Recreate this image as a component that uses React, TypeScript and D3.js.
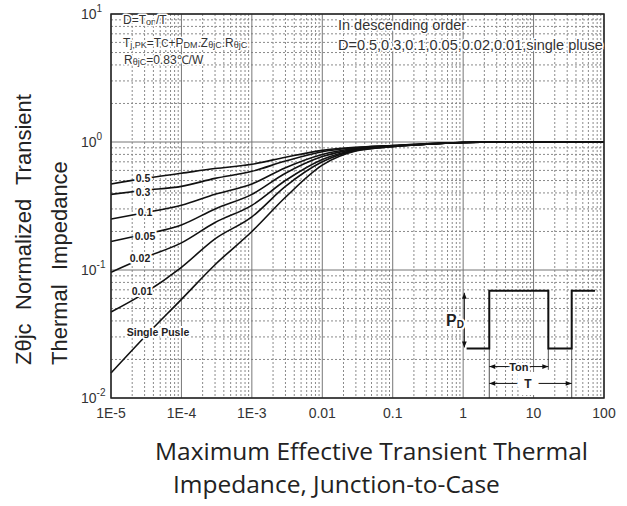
import React from 'react';
import * as d3 from 'd3';

// pulse duration, seconds
const times = [1e-5, 3e-5, 1e-4, 3e-4, 1e-3, 3e-3, 1e-2, 3e-2, 0.1, 0.3, 1, 3, 10, 30, 100];

// normalized Zth for each duty cycle
const d050 = [0.47, 0.52, 0.57, 0.62, 0.67, 0.76, 0.86, 0.91, 0.94, 0.97, 0.99, 1, 1, 1, 1];
const d030 = [0.39, 0.42, 0.45, 0.52, 0.59, 0.71, 0.84, 0.9, 0.94, 0.97, 0.99, 1, 1, 1, 1];
const d010 = [0.25, 0.28, 0.32, 0.39, 0.47, 0.63, 0.8, 0.89, 0.93, 0.96, 0.99, 1, 1, 1, 1];
const d005 = [0.167, 0.19, 0.225, 0.3, 0.39, 0.57, 0.77, 0.88, 0.93, 0.96, 0.99, 1, 1, 1, 1];
const d002 = [0.096, 0.125, 0.163, 0.235, 0.32, 0.5, 0.73, 0.87, 0.93, 0.96, 0.99, 1, 1, 1, 1];
const d001 = [0.047, 0.066, 0.105, 0.175, 0.26, 0.45, 0.7, 0.86, 0.92, 0.96, 0.99, 1, 1, 1, 1];
const single = [0.0157, 0.03, 0.059, 0.11, 0.2, 0.37, 0.66, 0.85, 0.92, 0.96, 0.99, 1, 1, 1, 1];

const seriesNames = ['0.5', '0.3', '0.1', '0.05', '0.02', '0.01', 'Single Pusle'];
const seriesValues = [d050, d030, d010, d005, d002, d001, single];

const xTickLabels = ['1E-5', '1E-4', '1E-3', '0.01', '0.1', '1', '10', '100'];
const yTickExp = ['1', '0', '-1', '-2'];

// pulse sketch (inset), in chart units
const pulseT = [1.12, 2.35, 2.35, 16.2, 16.2, 34.8, 34.8, 74.5];
const pulseZ = [0.0244, 0.0244, 0.0688, 0.0688, 0.0244, 0.0244, 0.0688, 0.0688];

const W = 627;
const H = 506;
const left = 111;
const right = 604;
const top = 14;
const bottom = 398;

const font = '"Liberation Sans", Arial, sans-serif';
const titleFont = '"Open Sans", "Noto Sans", sans-serif';

export default function App() {
  const x = d3.scaleLog().domain([1e-5, 100]).range([left, right]);
  const y = d3.scaleLog().domain([0.01, 10]).range([bottom, top]);

  const line = d3.line<[number, number]>()
    .x((d) => x(d[0]))
    .y((d) => y(d[1]))
    .curve(d3.curveMonotoneX);

  // grid values
  const minorX: number[] = [];
  for (let e = -5; e < 2; e += 1) {
    for (let m = 2; m <= 9; m += 1) minorX.push(m * 10 ** e);
  }
  const minorY: number[] = [];
  for (let e = -2; e < 1; e += 1) {
    for (let m = 2; m <= 9; m += 1) minorY.push(m * 10 ** e);
  }
  const majorX = x.ticks().filter((t) => Math.abs(Math.log10(t) - Math.round(Math.log10(t))) < 1e-9);
  const majorY = [0.01, 0.1, 1, 10];

  // label spots for the curves
  const labelPos = [
    { x: 143, y: 182 },
    { x: 143, y: 196 },
    { x: 145, y: 216 },
    { x: 145, y: 240 },
    { x: 140, y: 262 },
    { x: 142, y: 295 },
    { x: 158, y: 336 },
  ];

  const pulse = pulseT.map((t, i) => [x(t), y(pulseZ[i])]);
  const tRise = x(pulseT[1]);
  const tFall = x(pulseT[3]);
  const tRise2 = x(pulseT[5]);
  const yLow = y(pulseZ[0]);
  const yHigh = y(pulseZ[2]);
  const yTon = y(0.0176);
  const yT = y(0.013);
  const xPd = x(1.04);

  const halo = { paintOrder: 'stroke' as const, stroke: '#fff', strokeWidth: 4, strokeLinejoin: 'round' as const };

  return (
    <svg width={W} height={H} style={{ position: 'absolute', left: 0, top: 0, background: '#fff' }}>
      <defs>
        <marker id="ah" viewBox="0 0 10 10" refX="10" refY="5" markerWidth="7" markerHeight="6" orient="auto-start-reverse">
          <path d="M0,1 L10,5 L0,9 z" fill="#111" />
        </marker>
      </defs>
      <rect x={0} y={0} width={W} height={H} fill="#fff" />

      {/* grid */}
      <g>
        {minorX.map((t) => (
          <line key={`mx${t}`} x1={x(t)} x2={x(t)} y1={top} y2={bottom} stroke="#8a8a8a" strokeWidth={1} strokeDasharray="2,2" />
        ))}
        {minorY.map((v) => (
          <line key={`my${v}`} x1={left} x2={right} y1={y(v)} y2={y(v)} stroke="#8a8a8a" strokeWidth={1} strokeDasharray="2,2" />
        ))}
        {majorX.map((t) => (
          <line key={`Mx${t}`} x1={x(t)} x2={x(t)} y1={top} y2={bottom} stroke="#777" strokeWidth={1} />
        ))}
        {majorY.map((v) => (
          <line key={`My${v}`} x1={left} x2={right} y1={y(v)} y2={y(v)} stroke="#777" strokeWidth={1} />
        ))}
      </g>

      {/* curves */}
      <g fill="none" stroke="#111" strokeWidth={1.6}>
        {seriesValues.map((vals, i) => (
          <path key={seriesNames[i]} d={line(times.map((t, j) => [t, vals[j]]) as [number, number][]) || ''} />
        ))}
      </g>

      {/* curve labels */}
      <g fontFamily={font} fontSize={10.5} fontWeight="bold" fill="#222" textAnchor="middle">
        {seriesNames.map((n, i) => (
          <text key={n} x={labelPos[i].x} y={labelPos[i].y} {...halo}>{n}</text>
        ))}
      </g>

      {/* pulse inset */}
      <g>
        <line x1={tRise} x2={tRise} y1={yLow} y2={bottom} stroke="#222" strokeWidth={0.8} />
        <line x1={tFall} x2={tFall} y1={yLow} y2={y(0.0166)} stroke="#222" strokeWidth={0.8} />
        <line x1={tRise2} x2={tRise2} y1={yLow} y2={bottom} stroke="#222" strokeWidth={0.8} />
        <path d={d3.line()(pulse as [number, number][]) || ''} fill="none" stroke="#111" strokeWidth={2} />
        <line x1={xPd} x2={xPd} y1={yHigh + 2} y2={yLow - 1} stroke="#111" strokeWidth={1} markerStart="url(#ah)" markerEnd="url(#ah)" />
        <text x={455} y={326} fontFamily={font} fontSize={16} fontWeight="bold" fill="#222" textAnchor="middle" {...halo}>
          P<tspan fontSize={10} dy={2}>D</tspan>
        </text>
        <line x1={tRise} x2={tFall} y1={yTon} y2={yTon} stroke="#111" strokeWidth={1} markerStart="url(#ah)" markerEnd="url(#ah)" />
        <text x={(tRise + tFall) / 2} y={yTon + 4} fontFamily={font} fontSize={11} fontWeight="bold" fill="#222" textAnchor="middle" {...halo}>Ton</text>
        <line x1={tRise} x2={tRise2} y1={yT} y2={yT} stroke="#111" strokeWidth={1} markerStart="url(#ah)" markerEnd="url(#ah)" />
        <text x={528} y={yT + 5} fontFamily={font} fontSize={12} fontWeight="bold" fill="#222" textAnchor="middle" paintOrder="stroke" stroke="#fff" strokeWidth={14}>T</text>
      </g>

      {/* frame */}
      <rect x={left} y={top} width={right - left} height={bottom - top} fill="none" stroke="#222" strokeWidth={1.5} />

      {/* notes */}
      <g fontFamily={font} fontSize={12} fill="#333" {...halo} strokeWidth={3}>
        <text x={123} y={24}>D=T<tspan fontSize={9} dy={1}>on</tspan><tspan dy={-1}>/T</tspan></text>
        <text x={123} y={47}>
          T<tspan fontSize={9} dy={1}>j,PK</tspan><tspan dy={-1}>=T</tspan><tspan fontSize={10}>C</tspan>+P<tspan fontSize={9} dy={1}>DM</tspan><tspan dy={-1}>.Z</tspan><tspan fontSize={9} dy={1}>θjC</tspan><tspan dy={-1}>.R</tspan><tspan fontSize={9} dy={1}>θjC</tspan>
        </text>
        <text x={124} y={64}>R<tspan fontSize={9} dy={1}>θjC</tspan><tspan dy={-1}>=0.83℃/W</tspan></text>
        <text x={338} y={30} fontSize={14.5}>In descending order</text>
        <text x={338} y={50} fontSize={14.5}>D=0.5,0.3,0.1,0.05,0.02,0.01,single pluse</text>
      </g>

      {/* x ticks */}
      <g fontFamily={font} fontSize={14} fill="#333" textAnchor="middle">
        {majorX.map((t, i) => (
          <text key={t} x={x(t)} y={418}>{xTickLabels[i]}</text>
        ))}
      </g>
      {/* y ticks */}
      <g fontFamily={font} fontSize={14} fill="#333">
        {majorY.slice().reverse().map((v, i) => (
          <text key={v} x={81} y={y(v) + 5}>10<tspan fontSize={10} dy={-7}>{yTickExp[i]}</tspan></text>
        ))}
      </g>

      {/* axis titles */}
      <g fontFamily={font} fontSize={22} fill="#222">
        <g transform="translate(31,365) rotate(-90)">
          <text x={0}>Zθjc</text>
          <text x={55}>Normalized</text>
          <text x={180}>Transient</text>
        </g>
        <g transform="translate(67,365) rotate(-90)">
          <text x={0}>Thermal</text>
          <text x={95}>Impedance</text>
        </g>
      </g>
      <g fontFamily={titleFont} fontSize={24.5} fill="#222">
        <text x={155} y={460}>Maximum Effective Transient Thermal</text>
        <text x={173} y={493}>Impedance, Junction-to-Case</text>
      </g>
    </svg>
  );
}
